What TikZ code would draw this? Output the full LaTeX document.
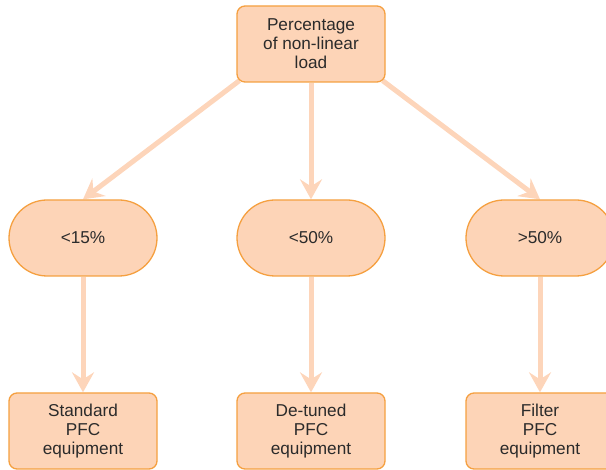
\documentclass[tikz,border=0pt]{standalone}
\usepackage{fontspec}
\setmainfont{Liberation Sans}
\usetikzlibrary{shapes.misc,arrows.meta,backgrounds}
\definecolor{boxfill}{HTML}{FDD4B7}
\definecolor{boxline}{HTML}{F5A040}
\definecolor{arrowcol}{HTML}{FDD5BA}
\definecolor{txt}{HTML}{2B2B2B}
\begin{document}
\begin{tikzpicture}[x=1pt,y=-1pt,
  every node/.style={font=\fontsize{17.2}{19}\selectfont, text=txt, align=center},
  rbox/.style={draw=boxline, fill=boxfill, line width=1.3pt, rectangle, rounded corners=8pt,
     minimum width=148pt, minimum height=76pt, inner sep=0pt},
  stadium/.style={draw=boxline, fill=boxfill, line width=1.3pt, rounded rectangle,
     minimum width=148pt, minimum height=76pt, inner sep=0pt},
  flow/.style={draw=arrowcol, line width=5pt, -{Stealth[length=20pt,width=22pt,inset=7pt]}}
]
\clip (0,0) rectangle (606,470);
\node[rbox] (top) at (311,44) {Percentage\\of non-linear\\load};
\node[stadium] (s1) at (83,238) {<15\%};
\node[stadium] (s2) at (311,238) {<50\%};
\node[stadium] (s3) at (540,238) {>50\%};
\node[rbox] (b1) at (83,431) {Standard\\PFC\\equipment};
\node[rbox] (b2) at (311,431) {De-tuned\\PFC\\equipment};
\node[rbox] (b3) at (540,431) {Filter\\PFC\\equipment};
\begin{pgfonlayer}{background}
\draw[flow] ([shift={(3,-2)}]top.south west) -- (s1.north);
\draw[flow] (top.south) -- (s2.north);
\draw[flow] ([shift={(-3,-2)}]top.south east) -- (s3.north);
\draw[flow] (s1.south) -- (b1.north);
\draw[flow] (s2.south) -- (b2.north);
\draw[flow] (s3.south) -- (b3.north);
\end{pgfonlayer}
\end{tikzpicture}
\end{document}
